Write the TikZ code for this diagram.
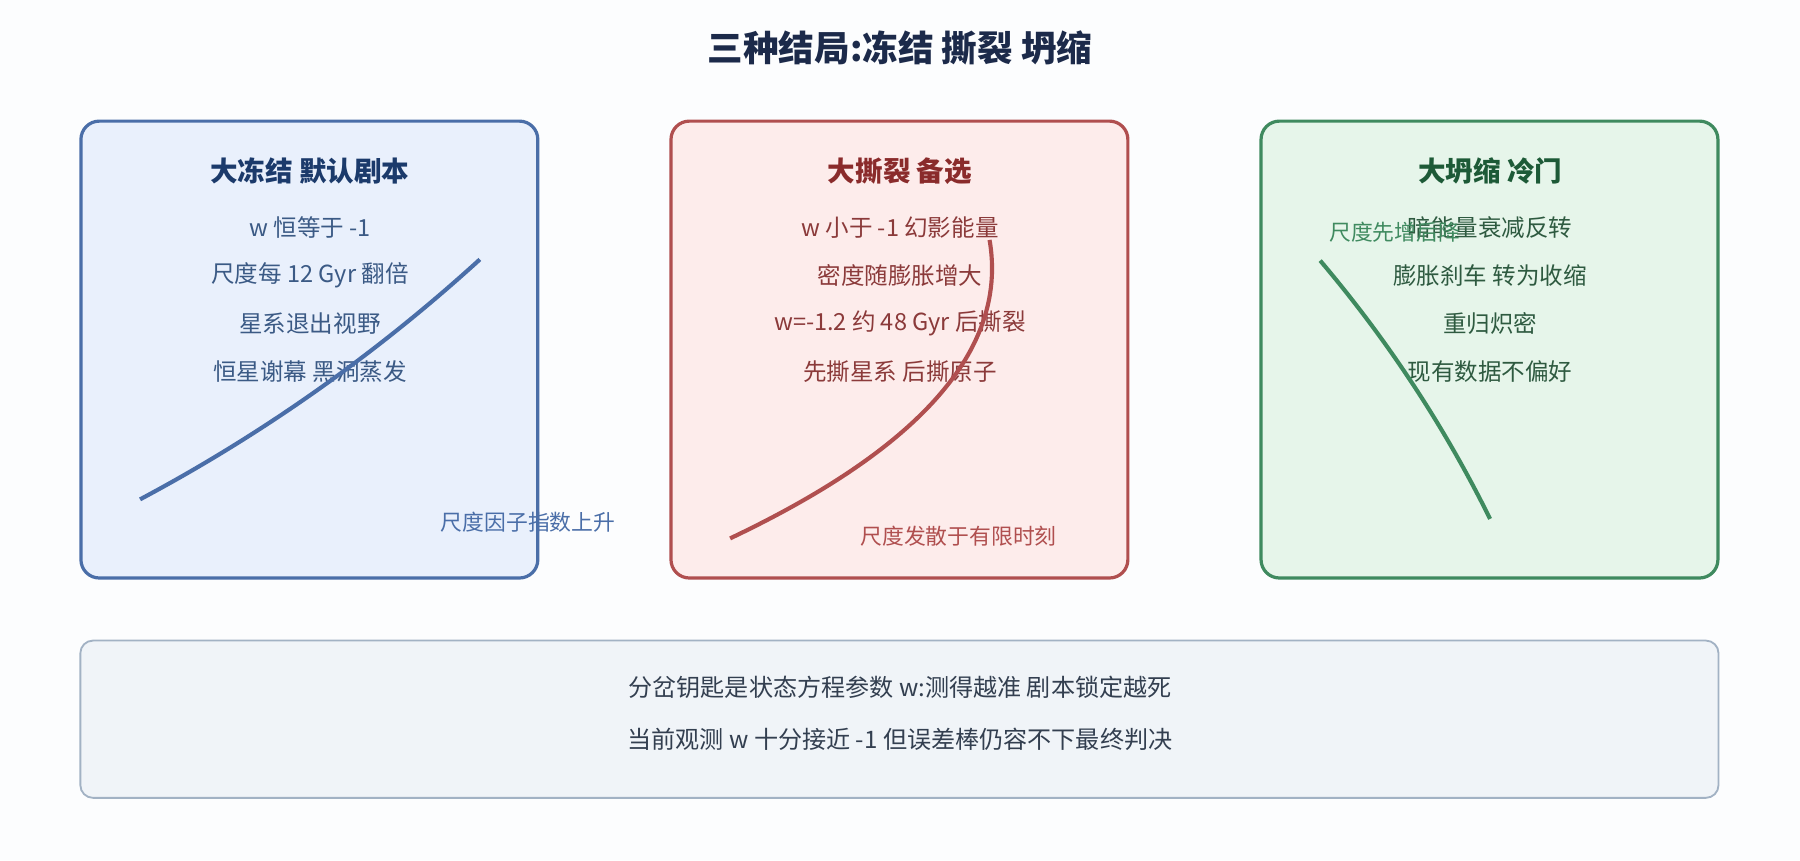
\documentclass[tikz,border=0pt]{standalone}
\usepackage{fontspec}
\setmainfont{Noto Sans CJK SC}
\usetikzlibrary{positioning}

\definecolor{pagebg}{HTML}{FCFDFE}
\definecolor{titleink}{HTML}{1C2A4A}
\definecolor{freezeline}{HTML}{4A6EA8}
\definecolor{freezefill}{HTML}{E9F0FC}
\definecolor{freezehead}{HTML}{1B3A6B}
\definecolor{freezetext}{HTML}{3B5A85}
\definecolor{ripline}{HTML}{B04F4F}
\definecolor{ripfill}{HTML}{FDECEB}
\definecolor{riphead}{HTML}{8A2B2B}
\definecolor{riptext}{HTML}{8B3A3A}
\definecolor{crunchline}{HTML}{3F8A5F}
\definecolor{crunchfill}{HTML}{E6F5EA}
\definecolor{crunchhead}{HTML}{1D5A37}
\definecolor{crunchtext}{HTML}{2E5A40}
\definecolor{noteline}{HTML}{A2B2C4}
\definecolor{notefill}{HTML}{F0F4F8}
\definecolor{notetext}{HTML}{333F50}

\tikzstyle{card} = [
  rectangle,
  rounded corners=16pt,
  minimum width=398pt,
  minimum height=398pt,
  line width=2.8pt,
  inner sep=0pt
]
\tikzstyle{notebox} = [
  rectangle,
  rounded corners=11pt,
  minimum width=1427pt,
  minimum height=137pt,
  line width=1.6pt,
  draw=noteline,
  fill=notefill,
  inner sep=0pt
]
\tikzstyle{cardhead} = [inner sep=0pt, font=\fontsize{24}{28}\selectfont\bfseries]
\tikzstyle{cardline} = [inner sep=0pt, font=\fontsize{20.5}{24}\selectfont]
\tikzstyle{curvelabel} = [inner sep=0pt, font=\fontsize{19}{22}\selectfont]
\tikzstyle{noteline} = [inner sep=0pt, text=notetext, font=\fontsize{21}{25}\selectfont]
\tikzstyle{trend} = [line width=3.6pt]

\begin{document}
\begin{tikzpicture}[x=1pt, y=1pt, node distance=42pt]
    \fill[pagebg] (0,0) rectangle (1568,-749.2);
    \useasboundingbox (0,0) rectangle (1568,-749.2);

    \node (title) [inner sep=0pt, text=titleink, font=\fontsize{31}{36}\selectfont\bfseries] at (784,-42) {三种结局:冻结 撕裂 坍缩};

    % three cards
    \node (freeze-card) [card, draw=freezeline, fill=freezefill] at (269.5,-304.5) {};
    \node (rip-card) [card, draw=ripline, fill=ripfill] at (783.5,-304.5) {};
    \node (crunch-card) [card, draw=crunchline, fill=crunchfill] at (1297.5,-304.5) {};

    \node (freeze-head) [cardhead, text=freezehead] at (270,-149) {大冻结 默认剧本};
    \node (freeze-w) [cardline, text=freezetext, below of=freeze-head, yshift=-7pt] {w 恒等于 -1};
    \node (freeze-double) [cardline, text=freezetext, below of=freeze-w] {尺度每 12 Gyr 翻倍};
    \node (freeze-galaxies) [cardline, text=freezetext, below of=freeze-double] {星系退出视野};
    \node (freeze-stars) [cardline, text=freezetext, below of=freeze-galaxies] {恒星谢幕 黑洞蒸发};

    \node (rip-head) [cardhead, text=riphead] at (784,-149) {大撕裂 备选};
    \node (rip-w) [cardline, text=riptext, below of=rip-head, yshift=-7pt] {w 小于 -1 幻影能量};
    \node (rip-density) [cardline, text=riptext, below of=rip-w] {密度随膨胀增大};
    \node (rip-time) [cardline, text=riptext, below of=rip-density] {w=-1.2 约 48 Gyr 后撕裂};
    \node (rip-order) [cardline, text=riptext, below of=rip-time] {先撕星系 后撕原子};

    \node (crunch-head) [cardhead, text=crunchhead] at (1298,-149) {大坍缩 冷门};
    \node (crunch-decay) [cardline, text=crunchtext, below of=crunch-head, yshift=-7pt] {暗能量衰减反转};
    \node (crunch-brake) [cardline, text=crunchtext, below of=crunch-decay] {膨胀刹车 转为收缩};
    \node (crunch-dense) [cardline, text=crunchtext, below of=crunch-brake] {重归炽密};
    \node (crunch-data) [cardline, text=crunchtext, below of=crunch-dense] {现有数据不偏好};

    % scale factor curves
    \draw [trend, freezeline] (122,-435) .. controls (229,-378) and (328,-308) .. (418,-226);
    \draw [trend, ripline] (636,-469) .. controls (760,-410) and (882,-325) .. (862,-209);
    \draw [trend, crunchline] (1150,-227) .. controls (1208.5,-296) and (1258,-371) .. (1298,-452);

    \node (freeze-label) [curvelabel, text=freezeline] at (460,-455) {尺度因子指数上升};
    \node (rip-label) [curvelabel, text=ripline] at (835,-467) {尺度发散于有限时刻};
    \node (crunch-label) [curvelabel, text=crunchline] at (1215,-202) {尺度先增后降};

    % bottom note
    \node (note) [notebox] at (783.5,-626.5) {};
    \node (note-key) [noteline] at (784,-599) {分岔钥匙是状态方程参数 w:测得越准 剧本锁定越死};
    \node (note-now) [noteline, below of=note-key, yshift=-3pt] {当前观测 w 十分接近 -1 但误差棒仍容不下最终判决};
\end{tikzpicture}
\end{document}
